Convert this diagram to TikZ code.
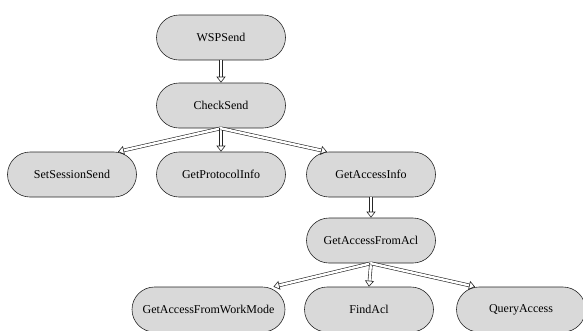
\documentclass[tikz,border=0pt]{standalone}
\usepackage{fontspec}
\setmainfont{Liberation Serif}
\usetikzlibrary{shapes.misc,arrows.meta}

\tikzset{
  func/.style={rounded rectangle, draw=black!85, line width=0.6pt, fill=black!15,
    minimum width=129pt, minimum height=45pt, inner sep=0pt,
    font=\fontsize{12}{14}\selectfont},
  call/.style={double=white, double distance=2.4pt, line width=0.6pt, draw=black!85,
    -{Triangle[open,length=6pt,width=9pt]}}
}

\begin{document}
\begin{tikzpicture}[x=1pt, y=-1pt]
  \useasboundingbox (0,0) rectangle (583,330);
  \clip (0,0) rectangle (583,330);

  % call tree
  \node[func] (wsp)     at (221,37.5)  {WSPSend};
  \node[func] (check)   at (221,105.5) {CheckSend};
  \node[func] (session) at (72,174.5)  {SetSessionSend};
  \node[func] (proto)   at (221,174.5) {GetProtocolInfo};
  \node[func] (access)  at (371,174.5) {GetAccessInfo};
  \node[func] (acl)     at (371,240.5) {GetAccessFromAcl};
  \node[func, minimum width=153pt] (mode) at (208.5,309.5) {GetAccessFromWorkMode};
  \node[func] (find)    at (369,309.5) {FindAcl};
  \node[func] (query)   at (521,309.5) {QueryAccess};

  % calls
  \draw[call] (wsp.south) -- (check.north);
  \draw[call] (check.south) -- ([xshift=46pt]session.north);
  \draw[call] (check.south) -- (proto.north);
  \draw[call] (check.south) -- ([xshift=-44pt]access.north);
  \draw[call] (access.south) -- (acl.north);
  \draw[call] (acl.south) -- ([xshift=65pt]mode.north);
  \draw[call] (acl.south) -- (find.north);
  \draw[call] (acl.south) -- ([xshift=-46pt]query.north);
\end{tikzpicture}
\end{document}
